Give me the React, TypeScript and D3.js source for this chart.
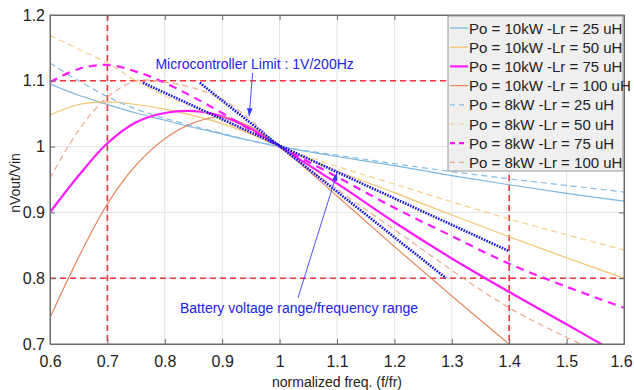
import React, { useEffect, useRef } from "react";
import * as d3 from "d3";

// sampled frequencies (f/fr)
const freqs = [0.6, 0.65, 0.7, 0.75, 0.8, 0.85, 0.9, 0.95, 1.0, 1.1, 1.2, 1.3, 1.4, 1.5, 1.6];

// gain curves nVout/Vin
const p10Lr25 = [1.095, 1.078, 1.064, 1.051, 1.04, 1.029, 1.019, 1.009, 1.0, 0.985, 0.971, 0.956, 0.942, 0.929, 0.917];
const p10Lr50 = [1.048, 1.064, 1.068, 1.064, 1.057, 1.047, 1.035, 1.019, 1.0, 0.963, 0.93, 0.896, 0.863, 0.831, 0.8];
const p10Lr75 = [0.9, 0.956, 1.005, 1.037, 1.051, 1.054, 1.046, 1.027, 1.0, 0.944, 0.885, 0.83, 0.779, 0.73, 0.68];
const p10Lr100 = [0.74, 0.832, 0.913, 0.972, 1.012, 1.036, 1.045, 1.03, 1.0, 0.925, 0.848, 0.773, 0.7, 0.63, 0.56];
const p8Lr25 = [1.127, 1.1, 1.076, 1.057, 1.043, 1.031, 1.02, 1.009, 1.0, 0.987, 0.974, 0.962, 0.951, 0.941, 0.931];
const p8Lr50 = [1.169, 1.148, 1.127, 1.1, 1.077, 1.06, 1.04, 1.02, 1.0, 0.97, 0.943, 0.916, 0.89, 0.866, 0.843];
const p8Lr75 = [1.098, 1.118, 1.124, 1.114, 1.097, 1.075, 1.051, 1.025, 1.0, 0.954, 0.907, 0.864, 0.822, 0.787, 0.755];
const p8Lr100 = [0.952, 1.025, 1.075, 1.1, 1.098, 1.089, 1.072, 1.04, 1.0, 0.935, 0.874, 0.812, 0.755, 0.71, 0.67];

const seriesNames = [
  "Po = 10kW -Lr = 25 uH",
  "Po = 10kW -Lr = 50 uH",
  "Po = 10kW -Lr = 75 uH",
  "Po = 10kW -Lr = 100 uH",
  "Po = 8kW -Lr = 25 uH",
  "Po = 8kW -Lr = 50 uH",
  "Po = 8kW -Lr = 75 uH",
  "Po = 8kW -Lr = 100 uH",
];
const seriesValues = [p10Lr25, p10Lr50, p10Lr75, p10Lr100, p8Lr25, p8Lr50, p8Lr75, p8Lr100];
const seriesColors = ["#7fb6e0", "#f4c46e", "#ff1aff", "#e98a62", "#86bde6", "#f6cf85", "#ff1aff", "#f0a88a"];
const seriesWidths = [1.2, 1.2, 2.2, 1.2, 1.2, 1.2, 2.2, 1.2];
const seriesDash = [null, null, null, null, "6,4", "6,4", "8,6", "6,4"];

// microcontroller limit lines (endpoints)
const limitLines = [
  [[0.762, 1.097], [1.4, 0.841]],
  [[0.861, 1.097], [1.29, 0.8]],
];

// red boundary lines
const vLimits = [0.7, 1.4];
const hLimits = [1.1, 0.8];

const xTicks = [0.6, 0.7, 0.8, 0.9, 1, 1.1, 1.2, 1.3, 1.4, 1.5, 1.6];
const yTicks = [0.7, 0.8, 0.9, 1, 1.1, 1.2];

const W = 634;
const H = 390;
const FONT = "'Liberation Sans', Arial, Helvetica, sans-serif";

const App = () => {
  const svgRef = useRef(null);

  useEffect(() => {
    const margin = { top: 15, right: 10, bottom: 46, left: 50 };
    const width = W - margin.left - margin.right;
    const height = H - margin.top - margin.bottom;

    d3.select(svgRef.current).selectAll("*").remove();
    const svg = d3.select(svgRef.current).attr("width", W).attr("height", H);

    const defs = svg.append("defs");
    defs.append("clipPath").attr("id", "plotclip")
      .append("rect").attr("width", width).attr("height", height);
    defs.append("marker")
      .attr("id", "arrow")
      .attr("viewBox", "0 0 10 10")
      .attr("refX", 10).attr("refY", 5)
      .attr("markerWidth", 9).attr("markerHeight", 9)
      .attr("orient", "auto-start-reverse")
      .append("path").attr("d", "M0,1.5 L10,5 L0,8.5 z").attr("fill", "#3a3aff");

    const chart = svg.append("g").attr("transform", `translate(${margin.left},${margin.top})`);

    const x = d3.scaleLinear().domain([0.6, 1.6]).range([0, width]);
    const y = d3.scaleLinear().domain([0.7, 1.2]).range([height, 0]);

    // grid
    chart.append("g").selectAll("line").data(xTicks.slice(1, -1)).enter().append("line")
      .attr("x1", d => x(d)).attr("x2", d => x(d)).attr("y1", 0).attr("y2", height)
      .attr("stroke", "#e3e3e3").attr("stroke-width", 1);
    chart.append("g").selectAll("line").data(yTicks.slice(1, -1)).enter().append("line")
      .attr("y1", d => y(d)).attr("y2", d => y(d)).attr("x1", 0).attr("x2", width)
      .attr("stroke", "#e3e3e3").attr("stroke-width", 1);

    const plot = chart.append("g").attr("clip-path", "url(#plotclip)");

    // red dashed limits
    plot.selectAll(".vlim").data(vLimits).enter().append("line")
      .attr("x1", d => x(d)).attr("x2", d => x(d)).attr("y1", 0).attr("y2", height)
      .attr("stroke", "#f0363a").attr("stroke-width", 1.6).attr("stroke-dasharray", "6,4");
    plot.selectAll(".hlim").data(hLimits).enter().append("line")
      .attr("y1", d => y(d)).attr("y2", d => y(d)).attr("x1", 0).attr("x2", width)
      .attr("stroke", "#f0363a").attr("stroke-width", 1.6).attr("stroke-dasharray", "6,4");

    const line = d3.line<number>()
      .x((_, i) => x(freqs[i]))
      .y(d => y(d))
      .curve(d3.curveCatmullRom.alpha(0.5));

    seriesValues.forEach((vals, i) => {
      plot.append("path")
        .datum(vals)
        .attr("fill", "none")
        .attr("stroke", seriesColors[i])
        .attr("stroke-width", seriesWidths[i])
        .attr("stroke-dasharray", seriesDash[i])
        .attr("d", line);
    });

    // microcontroller limit lines
    limitLines.forEach(seg => {
      plot.append("line")
        .attr("x1", x(seg[0][0])).attr("y1", y(seg[0][1]))
        .attr("x2", x(seg[1][0])).attr("y2", y(seg[1][1]))
        .attr("stroke", "#1111dd").attr("stroke-width", 2.6)
        .attr("stroke-dasharray", "1.6,1.2");
    });

    // axes box
    const axisColor = "#6b6b6b";
    chart.append("rect").attr("width", width).attr("height", height)
      .attr("fill", "none").attr("stroke", axisColor).attr("stroke-width", 1);

    const xAxis = chart.append("g").attr("transform", `translate(0,${height})`)
      .call(d3.axisBottom(x).tickValues(xTicks).tickSize(-5).tickPadding(12).tickFormat(d3.format("~g")));
    const yAxis = chart.append("g")
      .call(d3.axisLeft(y).tickValues(yTicks).tickSize(-5).tickPadding(5).tickFormat(d3.format("~g")));
    chart.append("g").attr("transform", `translate(0,0)`)
      .call(d3.axisTop(x).tickValues(xTicks).tickSize(-5).tickFormat(() => ""));
    chart.append("g").attr("transform", `translate(${width},0)`)
      .call(d3.axisRight(y).tickValues(yTicks).tickSize(-5).tickFormat(() => ""));

    chart.selectAll(".domain").attr("stroke", axisColor);
    chart.selectAll(".tick line").attr("stroke", axisColor);
    [xAxis, yAxis].forEach(a =>
      a.selectAll("text").style("font-family", FONT).style("font-size", "16px").attr("fill", "#222"));
    // keep the last x label inside the page
    xAxis.selectAll(".tick text").filter(d => d === 1.6).attr("dx", -3);

    // axis labels
    chart.append("text")
      .attr("x", width / 2).attr("y", height + 43)
      .attr("text-anchor", "middle")
      .style("font-family", FONT).style("font-size", "14px").attr("fill", "#222")
      .text("normalized freq. (f/fr)");
    chart.append("text")
      .attr("transform", "rotate(-90)")
      .attr("x", -168).attr("y", -30)
      .attr("text-anchor", "middle")
      .style("font-family", FONT).style("font-size", "14px").attr("fill", "#222")
      .text("nVout/Vin");

    // annotations
    chart.append("text")
      .attr("x", x(0.7836)).attr("y", 54)
      .style("font-family", FONT).style("font-size", "14px").attr("fill", "#2222ee")
      .text("Microcontroller Limit : 1V/200Hz");
    chart.append("line")
      .attr("x1", x(0.953)).attr("y1", y(1.112))
      .attr("x2", x(0.947)).attr("y2", y(1.046))
      .attr("stroke", "#3a3aff").attr("stroke-width", 0.9)
      .attr("marker-end", "url(#arrow)");

    chart.append("text")
      .attr("x", x(0.8265)).attr("y", y(0.747))
      .style("font-family", FONT).style("font-size", "14px").attr("fill", "#2222ee")
      .text("Battery voltage range/frequency range");
    chart.append("line")
      .attr("x1", x(1.032)).attr("y1", y(0.77))
      .attr("x2", x(1.1)).attr("y2", y(0.96))
      .attr("stroke", "#3a3aff").attr("stroke-width", 0.9)
      .attr("marker-end", "url(#arrow)");

    // legend
    const legend = svg.append("g").attr("transform", "translate(448,16)");
    legend.append("rect").attr("width", 175).attr("height", 155)
      .attr("fill", "#efefef").attr("stroke", "#9a9a9a").attr("stroke-width", 1);
    seriesNames.forEach((name, i) => {
      const row = legend.append("g").attr("transform", `translate(0,${12 + i * 19.2})`);
      row.append("line")
        .attr("x1", 2).attr("x2", 20).attr("y1", 0).attr("y2", 0)
        .attr("stroke", seriesColors[i])
        .attr("stroke-width", seriesWidths[i])
        .attr("stroke-dasharray", seriesDash[i] ? "5,4" : null);
      row.append("text")
        .attr("x", 21).attr("y", 5.5)
        .style("font-family", FONT).style("font-size", "15px").attr("fill", "#222")
        .text(name);
    });
  }, []);

  return (
    <div style={{ position: "absolute", left: 0, top: 0, background: "#fff" }}>
      <svg ref={svgRef}></svg>
    </div>
  );
};

export default App;
